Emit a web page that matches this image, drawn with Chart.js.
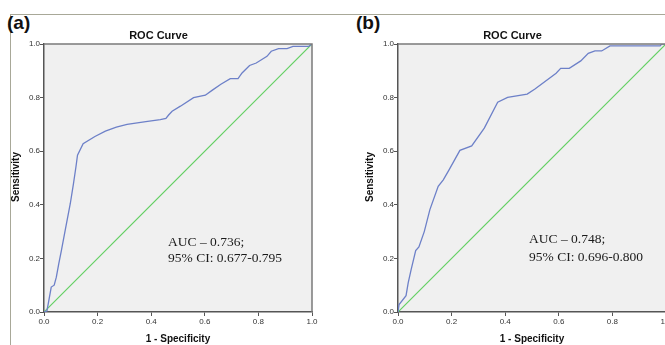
<!DOCTYPE html>
<html>
<head>
<meta charset="utf-8">
<script src="https://cdn.jsdelivr.net/npm/chart.js@4.4.1/dist/chart.umd.min.js"></script>
<style>
  html, body { margin: 0; padding: 0; background: #fff; overflow: hidden; }
  body { width: 665px; height: 345px; position: relative; }
  .frame { position: absolute; left: 10px; top: 14px; width: 660px; height: 340px;
           border-top: 1px solid #a8a898; border-left: 1px solid #a8a898; }
  .panel { position: absolute; top: 12px; font: bold 19px "Liberation Sans", Arial, sans-serif; color: #111; }
  canvas { position: absolute; top: 0; }
</style>
</head>
<body>
<div class="frame"></div>
<div class="panel" style="left:7px">(a)</div>
<div class="panel" style="left:356px">(b)</div>
<canvas id="chartA" width="330" height="345" style="left:0px"></canvas>
<canvas id="chartB" width="330" height="345" style="left:354px"></canvas>
<script>
  // ---- data ----
  const tickValues = [0, 0.2, 0.4, 0.6, 0.8, 1.0];
  const tickLabels = ["0.0", "0.2", "0.4", "0.6", "0.8", "1.0"];

  // (a)  1 - specificity / sensitivity
  const rocA_fpr = [0, 0.011, 0.027, 0.038, 0.046, 0.055, 0.065, 0.079, 0.098, 0.110, 0.119, 0.125, 0.146, 0.190, 0.229, 0.270, 0.310, 0.380, 0.434, 0.455, 0.465, 0.478, 0.509, 0.558, 0.602, 0.627, 0.660, 0.695, 0.724, 0.739, 0.767, 0.792, 0.832, 0.848, 0.875, 0.907, 0.929, 0.987, 1];
  const rocA_tpr = [0, 0.004, 0.093, 0.100, 0.130, 0.180, 0.230, 0.305, 0.404, 0.479, 0.540, 0.585, 0.628, 0.655, 0.675, 0.690, 0.700, 0.710, 0.718, 0.722, 0.735, 0.749, 0.768, 0.800, 0.809, 0.827, 0.850, 0.871, 0.871, 0.892, 0.920, 0.929, 0.954, 0.973, 0.983, 0.983, 0.991, 0.991, 1];

  // (b)
  const rocB_fpr = [0, 0.004, 0.030, 0.038, 0.049, 0.066, 0.078, 0.098, 0.119, 0.150, 0.169, 0.191, 0.231, 0.275, 0.322, 0.372, 0.409, 0.482, 0.511, 0.590, 0.607, 0.639, 0.682, 0.710, 0.735, 0.760, 0.791, 0.978, 0.984, 1];
  const rocB_tpr = [0, 0.028, 0.061, 0.109, 0.158, 0.229, 0.243, 0.300, 0.382, 0.469, 0.493, 0.531, 0.603, 0.620, 0.686, 0.783, 0.801, 0.813, 0.832, 0.891, 0.909, 0.909, 0.937, 0.965, 0.974, 0.974, 0.993, 0.993, 1.0, 1];

  // reference diagonal
  const refX = [0, 1];
  const refY = [0, 1];

  const aucA = ["AUC \u2013 0.736;", "95% CI: 0.677-0.795"];
  const aucB = ["AUC \u2013 0.748;", "95% CI: 0.696-0.800"];

  const zip = (xs, ys) => xs.map((x, i) => ({ x: x, y: ys[i] }));

  // background, frame, titles, AUC note
  const decor = {
    id: "decor",
    beforeDraw(chart) {
      const { ctx, chartArea: a } = chart;
      ctx.save();
      ctx.fillStyle = "#f0f0f0";
      ctx.fillRect(a.left, a.top, a.right - a.left, a.bottom - a.top);
      ctx.restore();
    },
    afterDraw(chart, args, opts) {
      const { ctx, chartArea: a } = chart;
      const sx = chart.scales.x, sy = chart.scales.y;
      ctx.save();
      // top + right frame of plot
      ctx.strokeStyle = "#7a7a7a";
      ctx.lineWidth = 1.5;
      ctx.beginPath();
      ctx.moveTo(a.left, a.top);
      ctx.lineTo(a.right, a.top);
      ctx.lineTo(a.right, a.bottom);
      ctx.stroke();

      ctx.fillStyle = "#111";
      ctx.textAlign = "center";
      ctx.textBaseline = "middle";
      ctx.font = "bold 11px 'Liberation Sans', Arial, sans-serif";
      ctx.fillText("ROC Curve", a.left + 114.5, a.top - 8.5);

      ctx.font = "bold 10px 'Liberation Sans', Arial, sans-serif";
      ctx.fillText("1 - Specificity", (a.left + a.right) / 2, a.bottom + 27);
      ctx.save();
      ctx.translate(a.left - 27.5, (a.top + a.bottom) / 2 - 1);
      ctx.rotate(-Math.PI / 2);
      ctx.fillText("Sensitivity", 0, 0);
      ctx.restore();

      // AUC note
      ctx.fillStyle = "#1a1a1a";
      ctx.textAlign = "left";
      ctx.font = "13.5px 'Liberation Serif', 'Times New Roman', serif";
      const px = sx.getPixelForValue(opts.noteX);
      opts.lines.forEach((t, i) => {
        ctx.fillText(t, px, sy.getPixelForValue(opts.noteY[i]));
      });
      ctx.restore();
    }
  };

  function makeRoc(id, fpr, tpr, lines, noteX, noteY) {
    const axisCommon = {
      type: "linear",
      min: 0,
      max: 1,
      afterBuildTicks: s => { s.ticks = tickValues.map(v => ({ value: v })); },
      border: { display: true, color: "#555", width: 1.5 },
      grid: { drawOnChartArea: false, drawTicks: true, tickLength: 4, color: "#555", lineWidth: 1 }
    };
    return new Chart(document.getElementById(id), {
      type: "scatter",
      data: {
        datasets: [
          {
            label: "ROC",
            data: zip(fpr, tpr),
            showLine: true,
            borderColor: "rgb(109,128,200)",
            backgroundColor: "rgb(109,128,200)",
            borderWidth: 1.3,
            pointRadius: 0,
            tension: 0
          },
          {
            label: "Reference",
            data: zip(refX, refY),
            showLine: true,
            borderColor: "rgb(98,207,98)",
            backgroundColor: "rgb(98,207,98)",
            borderWidth: 1.2,
            pointRadius: 0,
            tension: 0
          }
        ]
      },
      options: {
        responsive: false,
        animation: false,
        devicePixelRatio: 1,
        layout: { padding: { left: 0, top: 44, right: 18, bottom: 0 } },
        plugins: {
          legend: { display: false },
          tooltip: { enabled: false },
          decor: { lines: lines, noteX: noteX, noteY: noteY }
        },
        scales: {
          x: Object.assign({}, axisCommon, {
            afterFit: s => { s.height = 33; },
            ticks: {
              autoSkip: false, maxRotation: 0, padding: 1,
              color: "#333",
              font: { family: "'Liberation Sans', Arial, sans-serif", size: 8 },
              callback: (v, i) => tickLabels[i]
            }
          }),
          y: Object.assign({}, axisCommon, {
            afterFit: s => { s.width = 44; },
            ticks: {
              autoSkip: false, padding: 0,
              color: "#333",
              font: { family: "'Liberation Sans', Arial, sans-serif", size: 8 },
              callback: (v, i) => tickLabels[i]
            }
          })
        }
      },
      plugins: [decor]
    });
  }

  makeRoc("chartA", rocA_fpr, rocA_tpr, aucA, 0.463, [0.261, 0.2015]);
  makeRoc("chartB", rocB_fpr, rocB_tpr, aucB, 0.489, [0.269, 0.205]);
</script>
</body>
</html>
